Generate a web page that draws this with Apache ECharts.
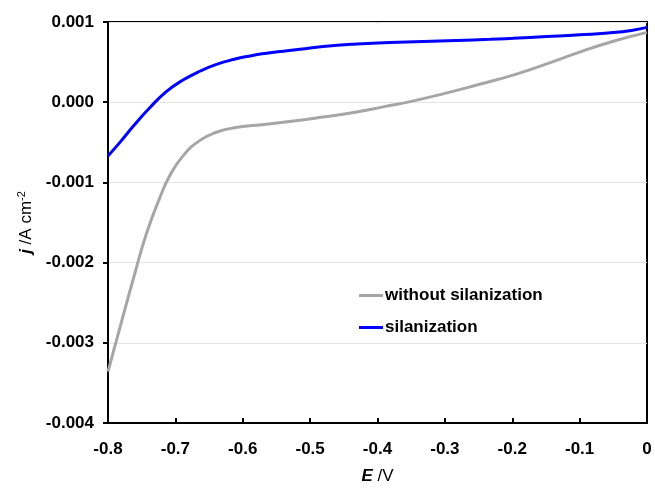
<!DOCTYPE html>
<html>
<head>
<meta charset="utf-8">
<script src="https://cdn.jsdelivr.net/npm/echarts@6/dist/echarts.min.js"></script>
<style>html,body{margin:0;padding:0;background:#fff}#c{width:655px;height:490px}</style>
</head>
<body>
<div id="c"></div>
<script>
// E /V values and j /A cm-2 values
const grayE = [-0.800,-0.780,-0.760,-0.743,-0.723,-0.708,-0.688,-0.664,-0.639,-0.615,-0.565,-0.515,-0.481,-0.431,-0.390,-0.350,-0.300,-0.250,-0.200,-0.150,-0.100,-0.050,0.000];
const grayJ = [-0.00336,-0.00274,-0.00213,-0.00164,-0.00119,-0.00091,-0.000663,-0.000479,-0.000375,-0.000323,-0.000274,-0.000224,-0.000184,-0.000123,-0.000055,0.000010,0.000110,0.000220,0.000335,0.000475,0.000625,0.000760,0.000871];
const blueE = [-0.800,-0.782,-0.762,-0.738,-0.713,-0.688,-0.663,-0.639,-0.614,-0.589,-0.565,-0.540,-0.515,-0.481,-0.431,-0.382,-0.332,-0.283,-0.233,-0.199,-0.149,-0.100,-0.050,-0.021,0.000];
const blueJ = [-0.00067,-0.000498,-0.000294,-0.000069,0.000135,0.000279,0.000389,0.000471,0.000532,0.000577,0.000610,0.000636,0.000659,0.000695,0.000726,0.000743,0.000757,0.000770,0.000784,0.000797,0.000818,0.000840,0.000868,0.000898,0.000933];
const seriesNames = ['without silanization','silanization'];
const xTicks = [-0.8,-0.7,-0.6,-0.5,-0.4,-0.3,-0.2,-0.1,0];
const yTicks = [-0.004,-0.003,-0.002,-0.001,0.000,0.001];

const font = 'Arial, "Liberation Sans", sans-serif';
const pair = (xs, ys) => xs.map((x, i) => [x, ys[i]]);
const chart = echarts.init(document.getElementById('c'), null, {renderer: 'canvas'});
chart.setOption({
  animation: false,
  backgroundColor: '#fff',
  grid: {left: 108, right: 8, top: 22, bottom: 62, show: true, borderColor: '#000', borderWidth: 2, backgroundColor: 'transparent'},
  legend: {
    orient: 'vertical', left: 354, top: 282, itemGap: 15, itemWidth: 24, itemHeight: 3, icon: 'rect',
    data: seriesNames,
    textStyle: {fontFamily: font, fontWeight: 'bold', fontSize: 17, color: '#000', padding: [0,0,0,-3]}
  },
  xAxis: {
    type: 'value', min: xTicks[0], max: xTicks[xTicks.length-1], interval: 0.1,
    axisLine: {onZero: false, lineStyle: {color: '#000', width: 2}},
    axisTick: {inside: true, length: 5, lineStyle: {color: '#000', width: 2}},
    splitLine: {show: false},
    axisLabel: {margin: 18, fontFamily: font, fontWeight: 'bold', fontSize: 17, color: '#000',
      formatter: v => { const r = Math.round(v*10)/10; return r === 0 ? '0' : r.toFixed(1); }},
    name: '{i|E} /V', nameLocation: 'middle', nameGap: 45,
    nameTextStyle: {fontFamily: font, fontSize: 17, color: '#000',
      rich: {i: {fontFamily: font, fontSize: 17, fontStyle: 'italic', fontWeight: 'bold', color: '#000'}}}
  },
  yAxis: {
    type: 'value', min: yTicks[0], max: yTicks[yTicks.length-1], interval: 0.001,
    axisLine: {onZero: false, lineStyle: {color: '#000', width: 2}},
    axisTick: {inside: false, length: 5, lineStyle: {color: '#000', width: 2}},
    splitLine: {show: true, lineStyle: {color: '#e4e4e4', width: 1}},
    axisLabel: {margin: 14, fontFamily: font, fontWeight: 'bold', fontSize: 17, color: '#000',
      formatter: v => (Math.abs(v) < 1e-9 ? 0 : v).toFixed(3)},
    name: '{i|j} /A cm{s|-2}', nameLocation: 'middle', nameGap: 70,
    nameTextStyle: {fontFamily: font, fontSize: 17, color: '#000',
      rich: {i: {fontFamily: font, fontSize: 17, fontStyle: 'italic', fontWeight: 'bold', color: '#000'},
             s: {fontFamily: font, fontSize: 11, color: '#000', verticalAlign: 'bottom', padding: [0,0,9,0]}}}
  },
  series: [
    {name: seriesNames[0], type: 'line', data: pair(grayE, grayJ), smooth: 0.5, symbol: 'none',
     lineStyle: {color: '#a6a6a6', width: 3}, itemStyle: {color: '#a6a6a6'}, z: 2},
    {name: seriesNames[1], type: 'line', data: pair(blueE, blueJ), smooth: 0.5, symbol: 'none',
     lineStyle: {color: '#0000ff', width: 3}, itemStyle: {color: '#0000ff'}, z: 3}
  ]
});
</script>
</body>
</html>
